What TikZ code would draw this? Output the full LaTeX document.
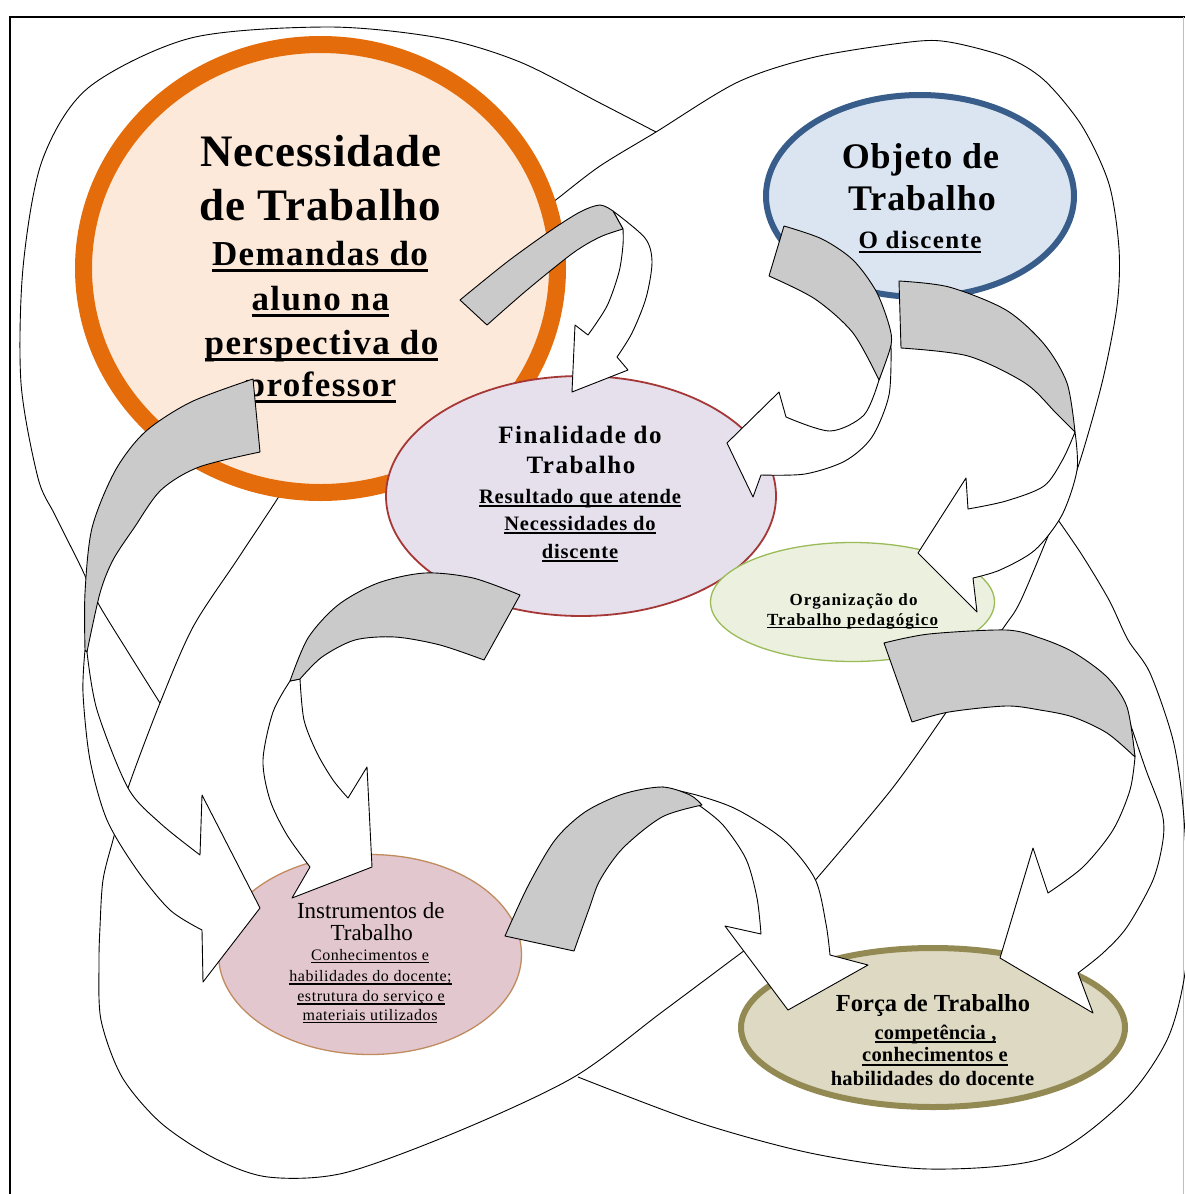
\documentclass[tikz,border=0pt]{standalone}
\usepackage{fontspec}
\setmainfont{Liberation Serif}
\usetikzlibrary{shapes.geometric}
\definecolor{orng}{RGB}{228,108,10}
\definecolor{orngfill}{RGB}{253,233,217}
\definecolor{blu}{RGB}{56,93,138}
\definecolor{blufill}{RGB}{219,229,241}
\definecolor{finfill}{RGB}{229,224,236}
\definecolor{finline}{RGB}{165,55,55}
\definecolor{orgfill}{RGB}{235,241,222}
\definecolor{orgline}{RGB}{155,187,89}
\definecolor{insfill}{RGB}{226,199,207}
\definecolor{insline}{RGB}{192,140,95}
\definecolor{forfill}{RGB}{221,217,195}
\definecolor{forline}{RGB}{147,137,83}
\definecolor{greyband}{RGB}{202,202,202}
\newsavebox\ulbox
\newcommand\ulin[1]{\sbox\ulbox{#1}\rlap{\rule[-0.19em]{\wd\ulbox}{0.085em}}\usebox\ulbox}
\newcommand\fA{\fontsize{45}{54}\selectfont\bfseries\addfontfeature{LetterSpace=2}}
\newcommand\fB{\fontsize{35}{44}\selectfont\bfseries\addfontfeature{LetterSpace=4}}
\newcommand\fC{\fontsize{36}{42}\selectfont\bfseries\addfontfeature{LetterSpace=2.5}}
\newcommand\fD{\fontsize{25}{30}\selectfont\bfseries\addfontfeature{LetterSpace=5.5}}
\newcommand\fE{\fontsize{25}{30}\selectfont\bfseries\addfontfeature{LetterSpace=6}}
\newcommand\fF{\fontsize{20.5}{27}\selectfont\bfseries\addfontfeature{LetterSpace=4}}
\newcommand\fG{\fontsize{17}{20}\selectfont\bfseries\addfontfeature{LetterSpace=6.5}}
\newcommand\fH{\fontsize{23}{22}\selectfont}
\newcommand\fI{\fontsize{16}{20}\selectfont\addfontfeature{LetterSpace=3.5}}
\newcommand\fJ{\fontsize{24.5}{27}\selectfont\bfseries}
\newcommand\fK{\fontsize{20.5}{23}\selectfont\bfseries\addfontfeature{LetterSpace=1}}
\tikzset{
  ell/.style={ellipse, inner sep=0pt, outer sep=0pt},
  lbl/.style={anchor=base, inner sep=0pt, outer sep=0pt, text=black},
  loopline/.style={draw=black, line width=0.9pt},
  bandw/.style={fill=white, draw=black, line width=0.9pt, line join=round},
  bandg/.style={fill=greyband, draw=black, line width=0.9pt, line join=round}
}
\begin{document}
\begin{tikzpicture}[x=1pt,y=-1pt]
\clip (0,0) rectangle (1185,1194);
\fill[white] (0,0) rectangle (1185,1194);
% frame
\draw[line width=2pt] (10,1194) -- (10,17) -- (1185,17);
\draw[black!25, line width=1pt] (1183,17) -- (1183,1194);
% big loop outlines
\draw[loopline] plot[smooth] coordinates {(160,703) (128,652) (98,603) (80,565) (55,515) (38,478) (21,383) (23,268) (42,161) (88,88) (191,38) (329,27) (440,38) (520,62) (600,103) (656,132)};
\draw[loopline] plot[smooth] coordinates {(285,485) (276,501) (237,560) (193,627) (160,703) (128,788) (113,840) (103,880) (100,927) (99,963) (101,1020) (122,1077) (161,1123) (214,1158) (268,1177) (344,1173) (459,1131) (574,1077) (662,1012) (745,950)};
\draw[loopline] plot[smooth] coordinates {(540,212) (557,199) (600,166) (656,132) (738,82) (815,57) (910,42) (949,42) (1006,57) (1044,80) (1082,126) (1109,184) (1119,249) (1117,306) (1102,383) (1077,470) (1056,517) (1021,600) (1002,630) (945,714) (891,790) (812,884)};
\draw[loopline] plot[smooth] coordinates {(1056,517) (1082,555) (1109,600) (1128,640) (1150,673) (1173,740) (1183,807) (1188,900) (1185,973) (1167,1040) (1123,1102) (1044,1158) (929,1169) (815,1154) (700,1123) (578,1077)};
% ellipses
\node[ell, draw=orng, line width=17pt, fill=orngfill, minimum width=474pt, minimum height=448pt] (nec) at (320.5,268.5) {};
\node[ell, draw=blu, line width=6pt, fill=blufill, minimum width=308pt, minimum height=202pt] (obj) at (920,196) {};
\node[ell, draw=finline, line width=1.8pt, fill=finfill, minimum width=390pt, minimum height=240pt] (fin) at (581,496) {};
\node[ell, draw=orgline, line width=1.3pt, fill=orgfill, minimum width=284pt, minimum height=119pt] (org) at (852.5,602) {};
\node[ell, draw=insline, line width=1.3pt, fill=insfill, minimum width=303pt, minimum height=200pt] (ins) at (370,954.5) {};
\node[ell, draw=forline, line width=6pt, fill=forfill, minimum width=384pt, minimum height=159pt] (forca) at (933,1027.5) {};
% texts
\node[lbl, font=\fA] (necA) at (321,166) {Necessidade};
\node[lbl, font=\fA] (necB) at (320.5,220) {de Trabalho};
\node[lbl, font=\fB] (necC) at (320,265) {\ulin{Demandas do}};
\node[lbl, font=\fB] (necD) at (320.5,310) {\ulin{aluno na}};
\node[lbl, font=\fB] (necE) at (321.5,354) {\ulin{perspectiva do}};
\node[lbl, font=\fB] (necF) at (321,396) {\ulin{professor}};
\node[lbl, font=\fC] (objA) at (920.5,168) {Objeto de};
\node[lbl, font=\fC] (objB) at (922,210.5) {Trabalho};
\node[lbl, font=\fD] (objC) at (920,248) {\ulin{O discente}};
\node[lbl, font=\fE] (finA) at (580,443) {Finalidade do};
\node[lbl, font=\fE] (finB) at (581,473) {Trabalho};
\node[lbl, font=\fF] (finC) at (580,503) {\ulin{Resultado que atende}};
\node[lbl, font=\fF] (finD) at (580,530) {\ulin{Necessidades do}};
\node[lbl, font=\fF] (finE) at (580,558) {\ulin{discente}};
\node[lbl, font=\fG] (orgA) at (853.5,605) {Organização do};
\node[lbl, font=\fG] (orgB) at (852.5,625) {\ulin{Trabalho pedagógico}};
\node[lbl, font=\fH] (insA) at (370.8,918) {Instrumentos de};
\node[lbl, font=\fH] (insB) at (371.7,940) {Trabalho};
\node[lbl, font=\fI] (insC) at (370,960) {\ulin{Conhecimentos e}};
\node[lbl, font=\fI] (insD) at (370.5,981.7) {\ulin{habilidades do docente;}};
\node[lbl, font=\fI] (insE) at (371,1001.7) {\ulin{estrutura do serviço e}};
\node[lbl, font=\fI] (insF) at (370,1020) {\ulin{materiais utilizados}};
\node[lbl, font=\fJ] (forA) at (933,1011.7) {Força de Trabalho};
\node[lbl, font=\fK] (forB) at (935.5,1039) {\ulin{competência ,}};
\node[lbl, font=\fK] (forC) at (935,1061.7) {\ulin{conhecimentos e}};
\node[lbl, font=\fK] (forD) at (932.5,1085) {habilidades do docente};
% A1: Necessidade -> Finalidade
\path[bandw] plot[smooth] coordinates {(613,211) (645,238) (652,262) (646,298) (632,333) (617,357)} -- (628,370) -- (572,392) -- (575,325) -- (588,335) -- plot[smooth] coordinates {(588,335) (607,306) (619,272) (623,245) (623,229)} -- cycle;
\path[bandg] plot[smooth] coordinates {(460,300) (507,262) (550,231) (580,212) (600,205) (613,211)} -- (623,229) -- plot[smooth] coordinates {(623,229) (600,237) (573,253) (527,290) (487,325)} -- cycle;
% A2: Objeto -> Finalidade
\path[bandw] plot[smooth] coordinates {(891,345) (889,395) (872,437) (845,461) (805,474) (761,475)} -- (753,497) -- (727,443) -- (779,392) -- (786,417) -- plot[smooth] coordinates {(786,417) (830,431) (864,415) (879,380)} -- cycle;
\path[bandg] plot[smooth] coordinates {(784,226) (822,239) (853,260) (876,291) (889,325) (891,345) (879,380)} -- plot[smooth] coordinates {(879,380) (853,333) (815,299) (769,276)} -- cycle;
% A3: Objeto -> Organizacao
\path[bandw] plot[smooth] coordinates {(1075,432) (1077,470) (1062,515) (1035,550) (1000,570) (973,578)} -- (977,612) -- (918,553) -- (966,478) -- (968,509) -- plot[smooth] coordinates {(968,509) (1006,501) (1044,486) (1063,459) (1075,432)} -- cycle;
\path[bandg] plot[smooth] coordinates {(899,281) (949,287) (1006,310) (1044,344) (1067,383) (1075,432)} -- plot[smooth] coordinates {(1075,432) (1056,413) (1025,383) (968,356) (901,348)} -- cycle;
% A4: Finalidade -> Instrumentos
\path[bandw] plot[smooth] coordinates {(290,681) (273,712) (263,760) (270,800) (287,835) (310,867)} -- (292,898) -- (372,867) -- (367,767) -- (348,798) -- plot[smooth] coordinates {(348,798) (333,780) (317,753) (304,720) (300,679)} -- cycle;
\path[bandg] plot[smooth] coordinates {(520,595) (473,578) (425,573) (378,583) (338,605) (308,638) (290,681)} -- plot[smooth] coordinates {(300,679) (322,657) (355,640) (395,637) (440,645) (484,660)} -- cycle;
% A5: Necessidade -> Instrumentos
\path[bandw] plot[smooth] coordinates {(85,650) (83,693) (90,760) (107,820) (137,870) (170,910) (202,930)} -- (203,982) -- (260,908) -- (202,795) -- (200,855) -- plot[smooth] coordinates {(200,855) (160,823) (128,788) (97,710) (87,652)} -- cycle;
\path[bandg] plot[smooth] coordinates {(253,379) (191,402) (145,432) (115,471) (92,528) (85,593) (85,650)} -- plot[smooth] coordinates {(87,652) (100,593) (113,560) (134,528) (161,490) (199,467) (260,452)} -- cycle;
% A6: Instrumentos -> Forca
\path[bandw] plot[smooth] coordinates {(662,787) (700,796) (738,810) (784,840) (815,879) (826,924) (830,955)} -- (868,965) -- (788,1010) -- (725,926) -- (761,934) -- plot[smooth] coordinates {(761,934) (757,898) (746,859) (723,825) (700,806)} -- cycle;
\path[bandg] plot[smooth] coordinates {(505,936) (528,886) (555,840) (585,812) (623,794) (662,787) (690,795) (702,805)} -- plot[smooth] coordinates {(702,805) (662,817) (623,848) (600,880) (589,909) (574,951)} -- cycle;
% A7: Organizacao -> Forca
\path[bandw] plot[smooth] coordinates {(1130,723) (1146,770) (1162,813) (1163,840) (1153,880) (1127,927) (1103,953) (1078,973)} -- (1093,1013) -- (1000,958) -- (1033,848) -- (1048,893) -- plot[smooth] coordinates {(1048,893) (1083,867) (1113,830) (1130,790) (1135,757)} -- cycle;
\path[bandg] plot[smooth] coordinates {(884,643) (929,634) (1006,630) (1040,638) (1073,652) (1107,677) (1127,707) (1135,757)} -- plot[smooth] coordinates {(1135,757) (1107,733) (1073,717) (1040,710) (1006,706) (949,712) (912,722)} -- cycle;
\end{tikzpicture}
\end{document}
